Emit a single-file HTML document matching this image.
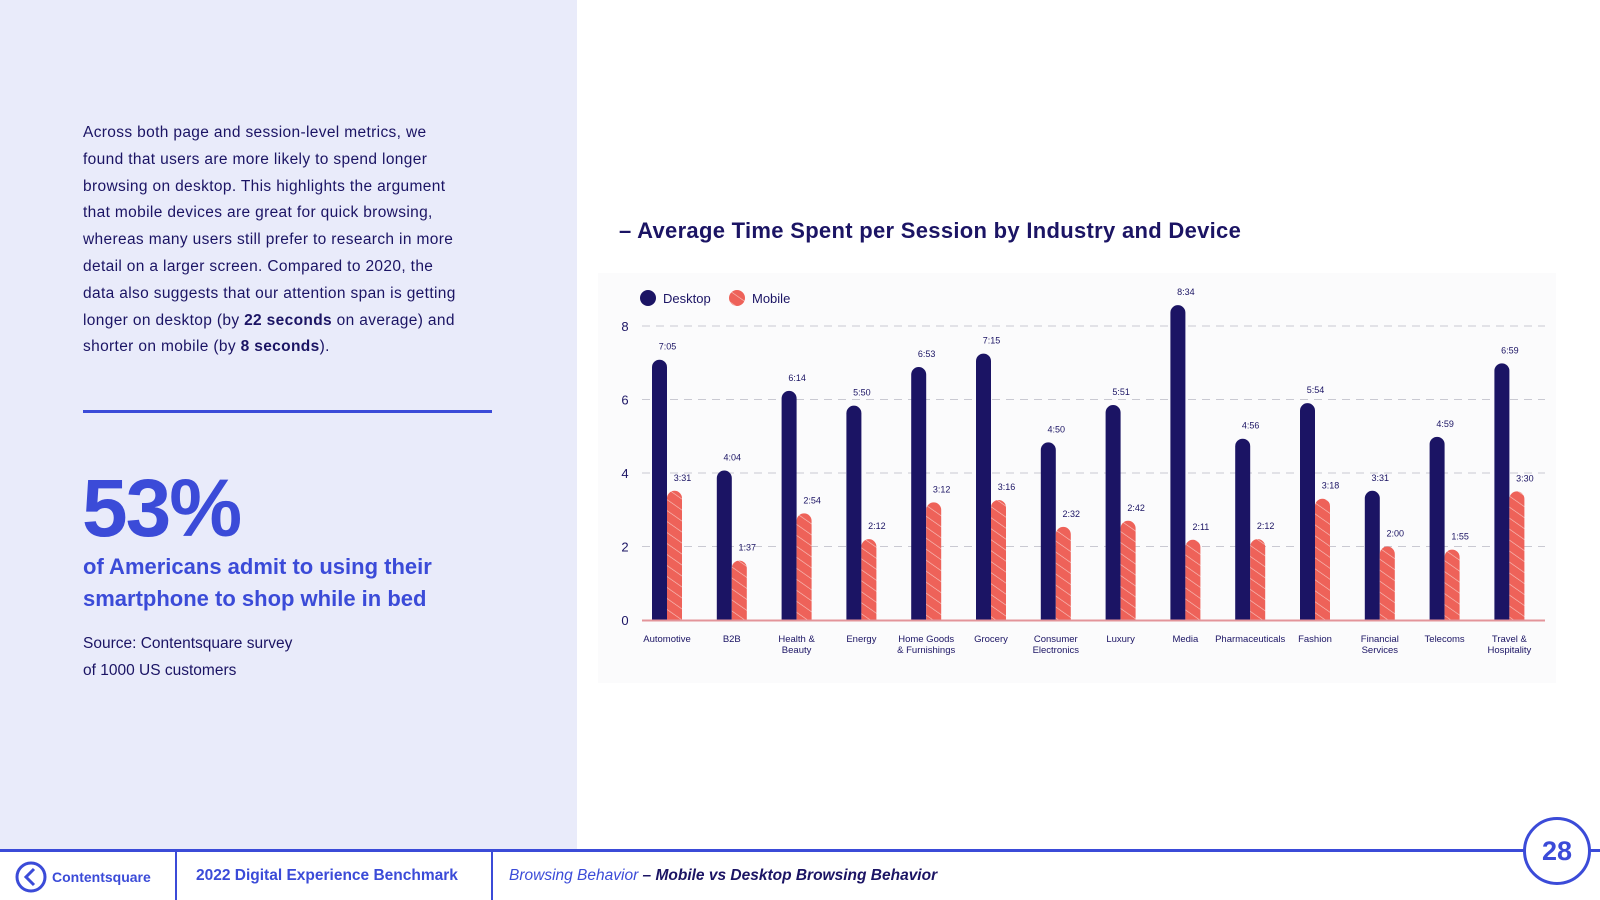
<!DOCTYPE html>
<html><head><meta charset="utf-8"><style>
body{margin:0;width:1600px;height:900px;position:relative;overflow:hidden;background:#fff;font-family:"Liberation Sans",sans-serif;color:#1b1464}
.abs{position:absolute}
#left{left:0;top:0;width:577px;height:850px;background:#e9ebfa}
#para{left:83px;top:120px;width:385px;font-size:15.5px;line-height:26.8px;letter-spacing:0.35px;color:#1b1464}
</style></head><body>
<div id="left" class="abs"></div>
<div id="para" class="abs">Across both page and session-level metrics, we found that users are more likely to spend longer browsing on desktop. This highlights the argument that mobile devices are great for quick browsing, whereas many users still prefer to research in more detail on a larger screen. Compared to 2020, the data also suggests that our attention span is getting longer on desktop (by <b>22 seconds</b> on average) and shorter on mobile (by <b>8 seconds</b>).</div>
<div class="abs" style="left:83px;top:410px;width:409px;height:3px;background:#3b4bd8"></div>
<div class="abs" style="left:82px;top:462px;font-size:82px;font-weight:bold;color:#3b4bd8;letter-spacing:-2px">53%</div>
<div class="abs" style="left:83px;top:551px;width:420px;font-size:22px;line-height:32px;font-weight:bold;color:#3b4bd8">of Americans admit to using their smartphone to shop while in bed</div>
<div class="abs" style="left:83px;top:630px;font-size:15.5px;line-height:27px">Source: Contentsquare survey<br>of 1000 US customers</div>
<div class="abs" style="left:619px;top:218px;font-size:22px;font-weight:bold;letter-spacing:0.3px">– Average Time Spent per Session by Industry and Device</div>
<svg class="abs" style="left:0;top:0" width="1600" height="900" id="chart">
<defs><pattern id="hatch" width="9" height="9" patternUnits="userSpaceOnUse" patternTransform="rotate(-55)"><rect width="9" height="9" fill="#ee6259"/><line x1="0" y1="0" x2="0" y2="9" stroke="#f8c8c2" stroke-width="1.2"/></pattern></defs>
<rect x="598" y="273" width="958" height="410" fill="#fbfbfc"/>
</svg>
<div class="abs" style="left:0;top:849px;width:1600px;height:3px;background:#3b4bd8"></div>
<div class="abs" style="left:175px;top:850px;width:2px;height:50px;background:#3b4bd8"></div>
<div class="abs" style="left:491px;top:850px;width:2px;height:50px;background:#3b4bd8"></div>
<svg class="abs" style="left:14px;top:860px" width="34" height="34"><circle cx="17" cy="17" r="14" fill="none" stroke="#3b4bd8" stroke-width="3"/><path d="M20 9 L12 17 L20 25" fill="none" stroke="#3b4bd8" stroke-width="3"/></svg>
<div class="abs" style="left:52px;top:869px;font-size:14px;font-weight:bold;color:#3b4bd8">Contentsquare</div>
<div class="abs" style="left:196px;top:867px;font-size:15.5px;font-weight:bold;color:#3b4bd8">2022 Digital Experience Benchmark</div>
<div class="abs" style="left:509px;top:867px;font-size:15.5px;font-style:italic"><span style="color:#3b4bd8">Browsing Behavior</span> <b>– Mobile vs Desktop Browsing Behavior</b></div>
<div class="abs" style="left:1523px;top:817px;width:62px;height:62px;border:3px solid #3b4bd8;border-radius:50%;background:#fff;text-align:center;line-height:62px;font-size:27px;font-weight:bold;color:#3b4bd8">28</div>
<script>
const categories=["Automotive","B2B","Health &|Beauty","Energy","Home Goods|& Furnishings","Grocery","Consumer|Electronics","Luxury","Media","Pharmaceuticals","Fashion","Financial|Services","Telecoms","Travel &|Hospitality"];
const desktopLabels=["7:05","4:04","6:14","5:50","6:53","7:15","4:50","5:51","8:34","4:56","5:54","3:31","4:59","6:59"];
const mobileLabels=["3:31","1:37","2:54","2:12","3:12","3:16","2:32","2:42","2:11","2:12","3:18","2:00","1:55","3:30"];
const yTicks=[0,2,4,6,8];
function toMin(s){const p=s.split(':');return +p[0]+(+p[1])/60;}
const desktop=desktopLabels.map(toMin), mobile=mobileLabels.map(toMin);
const svg=document.getElementById('chart'),NS='http://www.w3.org/2000/svg';
const y=v=>620-v*36.75, x=i=>667+i*64.8;
function el(t,a,txt){const e=document.createElementNS(NS,t);for(const k in a)e.setAttribute(k,a[k]);if(txt!==undefined)e.textContent=txt;svg.appendChild(e);return e;}
yTicks.forEach(t=>{
 if(t>0){const g=el('line',{x1:642,x2:1545,y1:y(t),y2:y(t),stroke:'#c9c9d2','stroke-dasharray':'8 6'});
 
 }
 const l=el('text',{x:625,y:y(t)+5,'font-size':13,'text-anchor':'middle',fill:'#1b1464','font-family':'Liberation Sans'},t);
 
 
});
function bar(cx,v,fill,lab){
 const w=15,top=y(v);
 const r=el('path',{d:`M${cx-w/2} 620 V${top+w/2} A${w/2} ${w/2} 0 0 1 ${cx+w/2} ${top+w/2} V620 Z`,fill:fill});
 
 
 const t=el('text',{x:cx+8,y:top-10,'font-size':9,'text-anchor':'middle',fill:'#1b1464','font-family':'Liberation Sans'},lab);
 
 
}
categories.forEach((c,i)=>{
 bar(x(i)-7.5,desktop[i],'#1b1464',desktopLabels[i]);
 bar(x(i)+7.5,mobile[i],'url(#hatch)',mobileLabels[i]);
 c.split('|').forEach((ln,j)=>{const t=el('text',{x:x(i),y:642+j*11,'font-size':9.5,'text-anchor':'middle',fill:'#1b1464','font-family':'Liberation Sans'},ln);
 
 });
});
const base=el('line',{x1:642,x2:1545,y1:620.5,y2:620.5,stroke:'#e3949a','stroke-width':2});


const l1=el('circle',{cx:648,cy:298,r:8,fill:'#1b1464'});


el('text',{x:663,y:303,'font-size':13,fill:'#1b1464','font-family':'Liberation Sans'},'Desktop');
const l2=el('circle',{cx:737,cy:298,r:8,fill:'url(#hatch)'});


el('text',{x:752,y:303,'font-size':13,fill:'#1b1464','font-family':'Liberation Sans'},'Mobile');
</script>
</body></html>
